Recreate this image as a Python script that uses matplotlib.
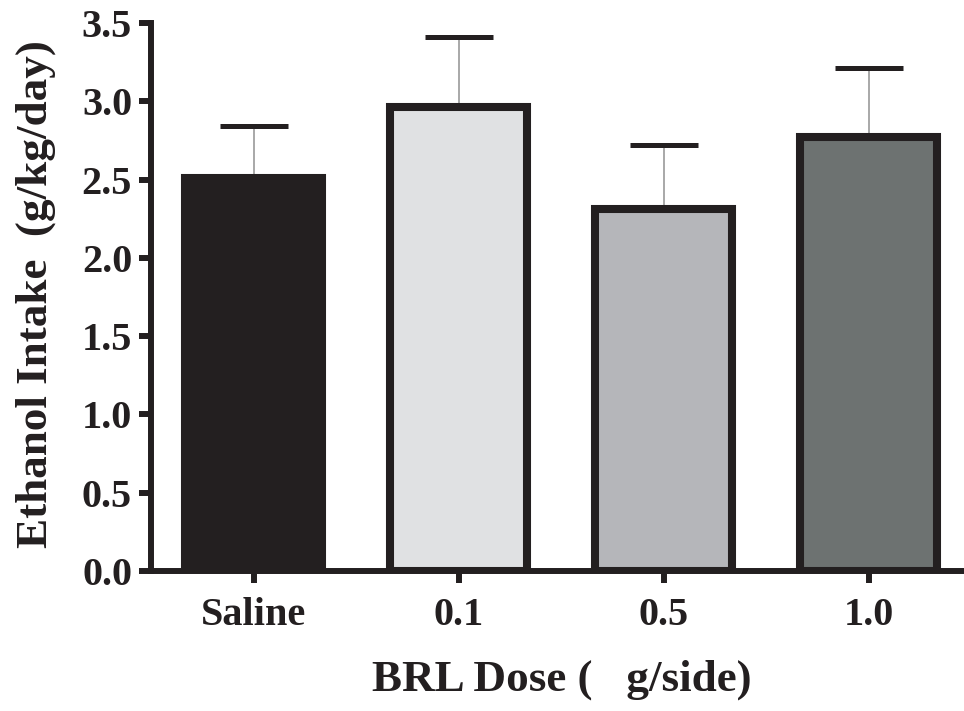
import matplotlib
matplotlib.use('Agg')
import matplotlib.pyplot as plt
from matplotlib.ticker import FormatStrFormatter

categories = ['Saline', '0.1', '0.5', '1.0']
means = [2.51, 2.965, 2.31, 2.77]
sem = [0.33, 0.445, 0.41, 0.44]
colors = ['#231f20', '#e0e1e3', '#b5b6ba', '#6d7271']
yticks = [0.0, 0.5, 1.0, 1.5, 2.0, 2.5, 3.0, 3.5]

dark = '#231f20'
plt.rcParams['font.family'] = ['Liberation Serif', 'DejaVu Serif']
plt.rcParams['font.weight'] = 'bold'

fig = plt.figure(figsize=(9.64, 7.11), dpi=100)
ax = fig.add_axes([151/964, 1 - 571/711, 1 - 151/964, (571 - 23)/711])

x = list(range(len(categories)))
ax.bar(x, means, width=0.668, color=colors, edgecolor=dark, linewidth=5.8, zorder=3)

eb = ax.errorbar(x, means, yerr=[[0]*len(sem), sem], fmt='none', ecolor='#9a9a9a',
                 elinewidth=1.2, capsize=24.5, capthick=3.6, zorder=2)
caps = eb[1]
caps[0].set_visible(False)
caps[1].set_markeredgecolor(dark)
caps[1].set_color(dark)

ax.set_xlim(-0.5, -0.5 + (964 - 151) / 205)
ax.set_ylim(0, 3.5)
ax.set_xticks(x)
ax.set_xticklabels(categories)
ax.set_yticks(yticks)
ax.yaxis.set_major_formatter(FormatStrFormatter('%.1f'))

for s in ['top', 'right']:
    ax.spines[s].set_visible(False)
for s in ['left', 'bottom']:
    ax.spines[s].set_linewidth(4.3)
    ax.spines[s].set_color(dark)
    ax.spines[s].set_zorder(4)

ax.tick_params(axis='both', length=8.6, width=4.3, color=dark, labelsize=29,
               labelcolor=dark)
ax.tick_params(axis='y', pad=5)
ax.tick_params(axis='x', pad=10)
for lab in ax.get_xticklabels() + ax.get_yticklabels():
    lab.set_fontweight('bold')

ax.set_ylabel('Ethanol Intake  (g/kg/day)', fontsize=32.5, fontweight='bold', color=dark)
ax.yaxis.set_label_coords(-0.117, 0.505)
ax.set_xlabel('BRL Dose (   g/side)', fontsize=32.5, fontweight='bold', color=dark)
ax.xaxis.set_label_coords(0.505, -0.162)

fig.savefig('out.png', dpi=100)
